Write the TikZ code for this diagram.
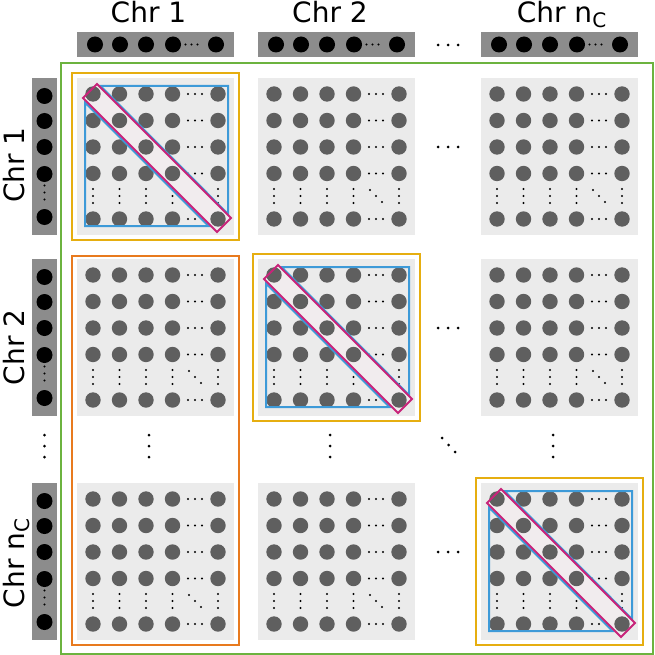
\documentclass[tikz,border=0pt]{standalone}
\usepackage{fontspec}
\setmainfont{DejaVu Sans}

\definecolor{bargray}{HTML}{8C8C8C}
\definecolor{cellgray}{HTML}{EBEBEB}
\definecolor{dotgray}{HTML}{5F5F5F}
\definecolor{framegreen}{HTML}{6CB33F}
\definecolor{frameyellow}{HTML}{E6AE10}
\definecolor{frameorange}{HTML}{E87A1E}
\definecolor{triblue}{HTML}{3D9AD8}
\definecolor{bandmagenta}{HTML}{C8247A}
\definecolor{bandfill}{HTML}{F1ECEE}

% one chromosome bar on top, and one on the left
\newcommand{\topbar}[1]{%
\begin{scope}[shift={(#1)}]
\fill[bargray] (0,0) rectangle (157,25);
\foreach \x in {18,43,69,96,139} \fill (\x,12.5) circle (8);
\foreach \x in {108.5,114.5,120.5} \fill (\x,12.5) circle (1.1);
\end{scope}}
\newcommand{\leftbar}[1]{%
\begin{scope}[shift={(#1)}]
\fill[bargray] (0,0) rectangle (25,157);
\foreach \y in {18,43,69,96,139} \fill (12.5,\y) circle (8);
\foreach \y in {107.5,114.5,121.5} \fill (12.5,\y) circle (1.1);
\end{scope}}

% one contact block: background and small dots
\newcommand{\cellback}[1]{%
\begin{scope}[shift={(#1)}]
\fill[cellgray] (0,0) rectangle (157,157);
\foreach \v in {16,42.5,69,95.5,141} {
  \foreach \w in {111,118,125} {
    \fill (\w,\v) circle (1.1);
    \fill (\v,\w) circle (1.1);
  }
}
\foreach \w in {112,118,124} \fill (\w,\w) circle (1.1);
\end{scope}}
% big dots of the block
\newcommand{\celldots}[1]{%
\begin{scope}[shift={(#1)}]
\foreach \x in {16,42.5,69,95.5,141}
  \foreach \y in {16,42.5,69,95.5,141}
    \fill[dotgray] (\x,\y) circle (7.7);
\end{scope}}
% diagonal band and the two triangles
\newcommand{\cellband}[1]{%
\begin{scope}[shift={(#1)}]
\fill[bandfill] (20,6) -- (154,140) -- (140,154) -- (6,20) -- cycle;
\end{scope}}
\newcommand{\celllines}[1]{%
\begin{scope}[shift={(#1)}]
\draw[frameyellow, line width=2.4pt] (-5,-5) rectangle (162,162);
\draw[triblue, line width=2pt, line join=miter] (23.5,8) -- (151,8) -- (151,136) -- cycle;
\draw[triblue, line width=2pt, line join=miter] (8,24.5) -- (8,148) -- (131.5,148) -- cycle;
\draw[bandmagenta, line width=2pt] (20,6) -- (154,140) -- (140,154) -- (6,20) -- cycle;
\end{scope}}

\begin{document}
\begin{tikzpicture}[x=1pt,y=-1pt,
  chrlabel/.style={font=\fontsize{28}{34}\selectfont, inner sep=0pt, anchor=base}]

\useasboundingbox (0,0) rectangle (655,655);

\coordinate (bar-top-1) at (77,32);
\coordinate (bar-top-2) at (258,32);
\coordinate (bar-top-3) at (481,32);
\coordinate (bar-left-1) at (32,78);
\coordinate (bar-left-2) at (32,259);
\coordinate (bar-left-3) at (32,483);

\coordinate (cell-1-1) at (77,78);
\coordinate (cell-1-2) at (258,78);
\coordinate (cell-1-3) at (481,78);
\coordinate (cell-2-1) at (77,259);
\coordinate (cell-2-2) at (258,259);
\coordinate (cell-2-3) at (481,259);
\coordinate (cell-3-1) at (77,483);
\coordinate (cell-3-2) at (258,483);
\coordinate (cell-3-3) at (481,483);

\coordinate (outer-frame-top) at (61,63);
\coordinate (outer-frame-bottom) at (653,654);
\coordinate (column-frame-top) at (72,256);
\coordinate (column-frame-bottom) at (239,645);

\topbar{bar-top-1}
\topbar{bar-top-2}
\topbar{bar-top-3}
\leftbar{bar-left-1}
\leftbar{bar-left-2}
\leftbar{bar-left-3}

\foreach \c in {cell-1-1,cell-1-2,cell-1-3,cell-2-1,cell-2-2,cell-2-3,cell-3-1,cell-3-2,cell-3-3}
  \cellback{\c};
\foreach \c in {cell-1-1,cell-2-2,cell-3-3}
  \cellband{\c};
\foreach \c in {cell-1-1,cell-1-2,cell-1-3,cell-2-1,cell-2-2,cell-2-3,cell-3-1,cell-3-2,cell-3-3}
  \celldots{\c};
\foreach \c in {cell-1-1,cell-2-2,cell-3-3}
  \celllines{\c};

% dots between the blocks
\foreach \y in {45,147,328,552}
  \foreach \x in {438,448,458} \fill (\x,\y) circle (1.5);
\foreach \x in {44.5,149,330,553}
  \foreach \y in {435,446,457} \fill (\x,\y) circle (1.5);
\foreach \x/\y in {442/438,448.5/445,455/452} \fill (\x,\y) circle (1.5);

\draw[frameorange, line width=2pt] (column-frame-top) rectangle (column-frame-bottom);
\draw[framegreen, line width=2pt] (outer-frame-top) rectangle (outer-frame-bottom);

\node[chrlabel] (label-top-1) at (148.5,23) {Chr 1};
\node[chrlabel] (label-top-2) at (330,23) {Chr 2};
\node[chrlabel] (label-top-3) at (561.5,23) {Chr n\raisebox{-5pt}{\fontsize{20}{24}\selectfont C}};
\node[chrlabel, rotate=90] (label-left-1) at (24,165) {Chr 1};
\node[chrlabel, rotate=90] (label-left-2) at (24,347.5) {Chr 2};
\node[chrlabel, rotate=90] (label-left-3) at (24,563.5) {Chr n\raisebox{-5pt}{\fontsize{20}{24}\selectfont C}};

\end{tikzpicture}
\end{document}
